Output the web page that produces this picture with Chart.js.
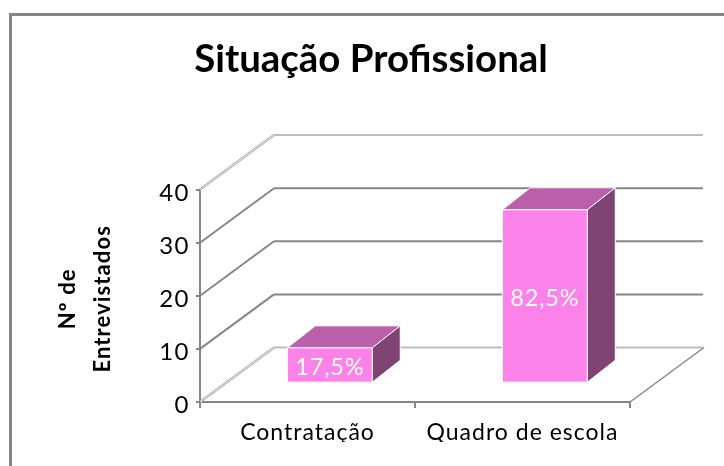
<!DOCTYPE html>
<html><head><meta charset="utf-8">
<style>html,body{margin:0;padding:0;background:#fff}canvas{display:block}</style>
<script src="https://cdn.jsdelivr.net/npm/chart.js@4"></script>
</head><body><canvas id="c" width="724" height="466"></canvas>
<script>
const categories = ['Contratação', 'Quadro de escola'];
const interviewees = [7, 33];
const barLabels = ['17,5%', '82,5%'];
const yTicks = [0, 10, 20, 30, 40];
const chartTitle = 'Situação Profissional';
const yTitle = ['Nº de', 'Entrevistados'];

const DEPTH_X = 74, DEPTH_Y = 54.5;
const BAR_SHIFT_X = 22.3, BAR_SHIFT_Y = 17, BAR_FLOOR_GAP = 1.8, BAR_DX = 28, BAR_DY = 22;
const TITLE_SHIFT_X = 31;
const GRID = '#868686', LIGHT = '#bdbdbd';

function line(ctx, x1, y1, x2, y2, color, w) {
  ctx.strokeStyle = color; ctx.lineWidth = w;
  ctx.beginPath(); ctx.moveTo(x1, y1); ctx.lineTo(x2, y2); ctx.stroke();
}
function poly(ctx, pts, fill) {
  ctx.fillStyle = fill; ctx.strokeStyle = '#fff'; ctx.lineWidth = 1;
  ctx.beginPath(); pts.forEach((p, i) => i ? ctx.lineTo(p[0], p[1]) : ctx.moveTo(p[0], p[1]));
  ctx.closePath(); ctx.fill(); ctx.stroke();
}
function spaced(obj, method, spacing, dy) {
  const orig = obj[method];
  obj[method] = function (a) {
    const c = this.ctx;
    c.save();
    c.letterSpacing = spacing;
    if (dy) c.translate(0, dy);
    orig.call(this, a);
    c.restore();
  };
}
const frame3d = {
  id: 'frame3d',
  afterLayout(chart) {
    const t = chart.titleBlock;
    t.left += TITLE_SHIFT_X; t.right += TITLE_SHIFT_X;
    spaced(chart.scales.x, 'drawLabels', '1px');
    spaced(chart.scales.y, 'drawLabels', '1.5px');
    spaced(chart.scales.y, 'drawTitle', '1.1px', 3);
  },
  beforeDraw(chart) {
    const ctx = chart.ctx;
    ctx.save();
    ctx.fillStyle = '#fff'; ctx.fillRect(0, 0, chart.width, chart.height);
    ctx.fillStyle = GRID;
    ctx.fillRect(9, 13, chart.width - 9, 3);
    ctx.fillRect(9, 13, 3, chart.height - 13);
    ctx.restore();
  },
  beforeDatasetsDraw(chart) {
    const ctx = chart.ctx, y = chart.scales.y, a = chart.chartArea;
    ctx.save();
    yTicks.forEach(t => {
      const py = y.getPixelForValue(t);
      const edge = t === 0 || t === 40;
      const col = edge ? LIGHT : GRID;
      line(ctx, a.left, py, a.left + DEPTH_X, py - DEPTH_Y, edge ? '#a8a8a8' : col, edge ? 2.4 : 2);
      if (edge) line(ctx, a.left, py, a.left + DEPTH_X, py - DEPTH_Y, '#fff', 0.8);
      line(ctx, a.left + DEPTH_X, py - DEPTH_Y, a.right + DEPTH_X - 1, py - DEPTH_Y, col, 2);
    });
    const by = y.getPixelForValue(0);
    line(ctx, a.right, by, a.right + DEPTH_X, by - DEPTH_Y, GRID, 1.5);
    ctx.restore();
  },
  afterDatasetsDraw(chart) {
    const ctx = chart.ctx, meta = chart.getDatasetMeta(0);
    ctx.save();
    meta.data.forEach((el, i) => {
      const l = el.x - el.width / 2 + BAR_SHIFT_X, r = l + el.width;
      const top = el.y - BAR_SHIFT_Y, bot = el.base - BAR_SHIFT_Y - BAR_FLOOR_GAP;
      poly(ctx, [[l, top], [l + BAR_DX, top - BAR_DY], [r + BAR_DX, top - BAR_DY], [r, top]], '#BA60AB');
      poly(ctx, [[r, top], [r + BAR_DX, top - BAR_DY], [r + BAR_DX, bot - BAR_DY], [r, bot]], '#7F4374');
      poly(ctx, [[l, top], [r, top], [r, bot], [l, bot]], '#FB82E9');
      ctx.fillStyle = '#fff';
      ctx.font = '23.5px Lato';
      ctx.letterSpacing = '0.8px';
      ctx.textAlign = 'center'; ctx.textBaseline = 'middle';
      ctx.fillText(barLabels[i], (l + r) / 2, (top + bot) / 2 + 2);
      ctx.letterSpacing = '0px';
    });
    ctx.restore();
  }
};

new Chart(document.getElementById('c'), {
  type: 'bar',
  data: { labels: categories, datasets: [{ label: 'Nº de Entrevistados', data: interviewees,
    backgroundColor: 'rgba(251,130,233,0)', borderWidth: 0,
    barPercentage: 0.395, categoryPercentage: 1 }] },
  plugins: [frame3d],
  options: {
    responsive: false, animation: false, devicePixelRatio: 1,
    layout: { padding: { left: 50, right: 94, top: 0, bottom: 24 } },
    plugins: {
      legend: { display: false }, tooltip: { enabled: false },
      title: { display: true, text: chartTitle, color: '#000',
        font: { family: 'Lato', size: 38.4, weight: 'bold' },
        padding: { top: 36.5, bottom: 107 } }
    },
    scales: {
      x: {
        afterFit(s) { s.height = 40; },
        border: { color: GRID, width: 2 },
        grid: { offset: true, drawOnChartArea: false, color: GRID, tickLength: 6, lineWidth: 2 },
        ticks: { color: '#000', font: { family: 'Lato', size: 23 }, padding: 11, maxRotation: 0, autoSkip: false }
      },
      y: {
        min: 0, max: 40,
        afterFit(s) { s.width = 150; },
        afterBuildTicks(s) { s.ticks = yTicks.map(v => ({ value: v })); },
        border: { color: GRID, width: 2 },
        grid: { drawOnChartArea: false, color: GRID, tickLength: 4, lineWidth: 2 },
        ticks: { color: '#000', font: { family: 'Lato', size: 24 }, padding: 6, labelOffset: 3.5 },
        title: { display: true, text: yTitle, color: '#000',
          font: { family: 'Lato', size: 22, weight: 'bold', lineHeight: 1.6 }, padding: 0 }
      }
    }
  }
});
</script></body></html>
